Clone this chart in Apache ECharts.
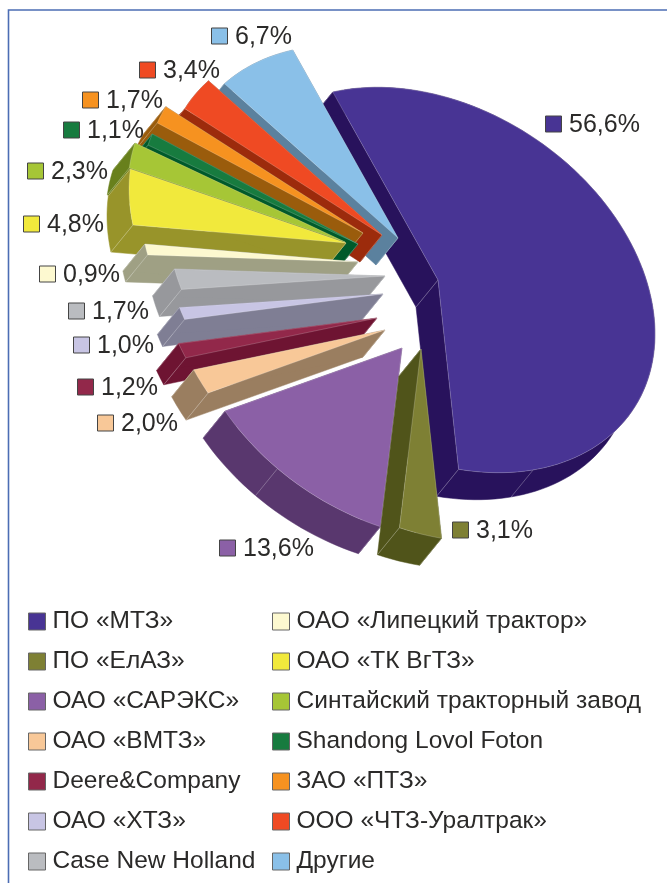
<!DOCTYPE html>
<html><head><meta charset="utf-8">
<style>html,body{margin:0;padding:0;background:#fff}#c{width:667px;height:883px}</style>
<script src="https://cdn.jsdelivr.net/npm/echarts@6/dist/echarts.min.js"></script>
</head><body><div id="c"></div>
<script>
// ---- data ----
const companies = ['ПО «МТЗ»','ПО «ЕлАЗ»','ОАО «САРЭКС»','ОАО «ВМТЗ»','Deere&Company','ОАО «ХТЗ»','Case New Holland',
  'ОАО «Липецкий трактор»','ОАО «ТК ВгТЗ»','Синтайский тракторный завод','Shandong Lovol Foton','ЗАО «ПТЗ»','ООО «ЧТЗ-Уралтрак»','Другие'];
const shares = [56.6,3.1,13.6,2.0,1.2,1.0,1.7,0.9,4.8,2.3,1.1,1.7,3.4,6.7];
const shareLabels = ['56,6%','3,1%','13,6%','2,0%','1,2%','1,0%','1,7%','0,9%','4,8%','2,3%','1,1%','1,7%','3,4%','6,7%'];
// ---- style ----
const topColors = ['#483494','#7e8034','#8b60a6','#f8c898','#92284a','#c8c5e4','#babcc0','#fdf9d0','#f1e93c','#a6c636','#177b3f','#f69220','#ef4a23','#8ac0e8'];
const sideColors = ['#28125c','#50541a','#59376e','#9a7e60','#6e1432','#7f7e94','#97989c','#9fa084','#98942a','#68801c','#005a2b','#9a5c0c','#9c2b0c','#5b819e'];
const drawOrder = [0,13,12,11,10,9,8,7,6,5,4,3,2,1];
// ---- layout ----
const center = [420,295], startAngle = 241, rimX = 217, shear = 54, rimY = 185, depth = [-22,27];
const explode = [[18,-15],[1,54],[-18,53],[-35,35],[-43,23],[-37,-1],[-35,-19],[-62,-33],[-74,-52],[-75,-53],[-62,-51],[-57,-62],[-38,-60],[-22,-57]];
const labelAnchor = [[545,124],[452,530],[219,548],[97,423],[77,387],[73,345],[68,311],[39,274],[23,224],[27,171],[63,130],[82,100],[139,70],[211,36]];
const seams = {0:[64],2:[125]};
const labelFont = 'Liberation Sans';
const total = shares.reduce((a,b)=>a+b,0);
const toAngle = echarts.number.linearMap;
function rim(deg){const r=deg*Math.PI/180,c=Math.cos(r),s=Math.sin(r);return [rimX*c,shear*c+rimY*s];}

function renderSlice(params,api){
  const i=params.seriesIndex, value=api.value(0);
  let before=0; for(let k=0;k<i;k++) before+=shares[k];
  const a0=startAngle+toAngle(before,[0,total],[0,360]);
  const a1=a0+toAngle(value,[0,total],[0,360]);
  const tip=[center[0]+explode[i][0],center[1]+explode[i][1]];
  const at=(deg)=>{const p=rim(deg);return [tip[0]+p[0],tip[1]+p[1]];};
  const low=(p)=>[p[0]+depth[0],p[1]+depth[1]];
  const arc=[]; const n=Math.max(6,Math.ceil((a1-a0)/2));
  for(let k=0;k<=n;k++) arc.push(at(a0+(a1-a0)*k/n));
  const side=sideColors[i], top=topColors[i];
  const face=(pts)=>({type:'polygon',shape:{points:pts},style:{fill:side,stroke:side,lineWidth:.5}});
  const hair=(p)=>({type:'line',shape:{x1:p[0],y1:p[1],x2:low(p)[0],y2:low(p)[1]},style:{stroke:'rgba(255,255,255,.45)',lineWidth:.6}});
  const children=[
    face([tip,arc[0],low(arc[0]),low(tip)]),
    face([tip,arc[n],low(arc[n]),low(tip)]),
    face(arc.concat(arc.map(low).reverse())),
    hair(tip),hair(arc[0]),hair(arc[n])
  ];
  (seams[i]||[]).forEach(d=>children.push(hair(at(d))));
  children.push({type:'polygon',shape:{points:[tip].concat(arc)},style:{fill:top,stroke:'rgba(255,255,255,.4)',lineWidth:.5}});
  const la=labelAnchor[i];
  children.push({type:'rect',shape:{x:la[0]+.5,y:la[1]-8,width:16,height:16},style:{fill:top,stroke:'#444',lineWidth:1}});
  children.push({type:'text',x:la[0]+24,y:la[1]+1,style:{text:shareLabels[i],fill:'#2b2a29',font:'25px "'+labelFont+'"',textVerticalAlign:'middle',textBaseline:'middle'}});
  return {type:'group',children};
}

const series = companies.map((name,i)=>({
  type:'custom',name,coordinateSystem:'none',renderItem:renderSlice,
  z:2+drawOrder.indexOf(i),silent:true,animation:false,
  itemStyle:{color:topColors[i]},
  data:[[shares[i]]]
}));
const legendBase={orient:'vertical',top:609,padding:0,itemWidth:17,itemHeight:17,itemGap:15,icon:'rect',selectedMode:false,
  itemStyle:{borderColor:'#666',borderWidth:1},
  textStyle:{fontFamily:labelFont,fontSize:24.5,color:'#2b2a29',padding:[0,0,0,2]}};
const chart=echarts.init(document.getElementById('c'),null,{renderer:'canvas'});
chart.setOption({
  animation:false,backgroundColor:'#fff',
  legend:[
    Object.assign({left:28,data:companies.slice(0,7)},legendBase),
    Object.assign({left:272,data:companies.slice(7)},legendBase)
  ],
  graphic:[{type:'polyline',z:1,shape:{points:[[8.5,883],[8.5,10],[667,10]]},style:{stroke:'#4c6db4',fill:null,lineWidth:1.6}}],
  series
});
</script></body></html>
